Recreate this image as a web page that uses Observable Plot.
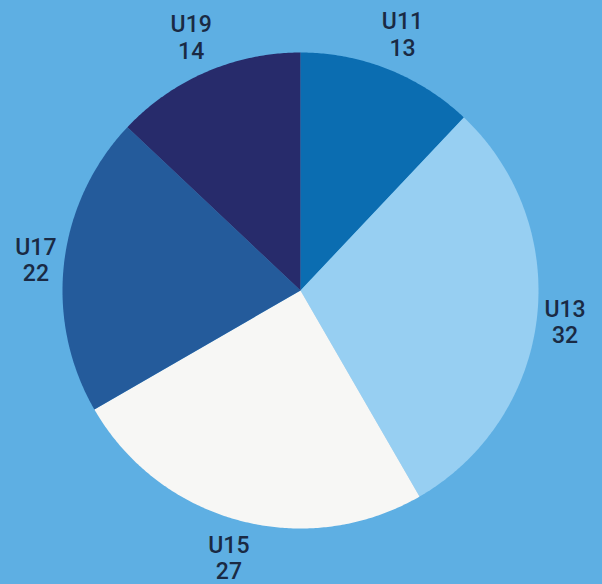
<!DOCTYPE html>
<html>
<head>
<meta charset="utf-8">
<script src="https://cdn.jsdelivr.net/npm/d3@7"></script>
<script src="https://cdn.jsdelivr.net/npm/@observablehq/plot@0.6"></script>
<style>
  html, body { margin: 0; padding: 0; background: #5eafe3; }
  #chart { width: 602px; height: 584px; }
</style>
</head>
<body>
<div id="chart"></div>
<script>
// Data
const categories = ["U11", "U13", "U15", "U17", "U19"];
const values = [13, 32, 27, 22, 14];
const colors = ["#0b6db1", "#97cff2", "#f7f7f5", "#245b9b", "#272b6b"];

const W = 602, H = 584;
const R = 1; // pie radius in data units
const pxPerUnit = 238;
const cx = 300, cy = 290;

const pie = d3.pie().sort(null).value(d => d.value)(
  categories.map((c, i) => ({name: c, value: values[i]}))
);

// slice outlines in data space (angle clockwise from top)
const slicePts = [];
for (const s of pie) {
  const a0 = s.startAngle, a1 = s.endAngle;
  const n = Math.max(2, Math.ceil((a1 - a0) / (Math.PI / 360)));
  slicePts.push({name: s.data.name, x: 0, y: 0});
  for (let k = 0; k <= n; k++) {
    const a = a0 + (a1 - a0) * k / n;
    slicePts.push({name: s.data.name, x: R * Math.sin(a), y: R * Math.cos(a)});
  }
  slicePts.push({name: s.data.name, x: 0, y: 0});
}

const labels = pie.map(s => {
  const a = (s.startAngle + s.endAngle) / 2;
  const r = R * (265 + 12 * Math.abs(Math.cos(a))) / 238;
  return {text: `${s.data.name}\n${s.data.value}`, x: r * Math.sin(a), y: r * Math.cos(a)};
});

const chart = Plot.plot({
  width: W,
  height: H,
  margin: 0,
  style: {background: "transparent"},
  x: {domain: [-cx / pxPerUnit, (W - cx) / pxPerUnit], axis: null},
  y: {domain: [-(H - cy) / pxPerUnit, cy / pxPerUnit], axis: null},
  color: {type: "ordinal", domain: categories, range: colors},
  marks: [
    Plot.line(slicePts, {x: "x", y: "y", z: "name", fill: "name", stroke: "none", curve: "linear"}),
    Plot.text(labels, {
      x: "x", y: "y", text: "text",
      fontSize: 23, lineHeight: 1.15, lineAnchor: "middle",
      fill: "#1a2a44",
      fontFamily: "Roboto, sans-serif",
      fontWeight: 500
    })
  ]
});
document.getElementById("chart").appendChild(chart);
</script>
</body>
</html>
